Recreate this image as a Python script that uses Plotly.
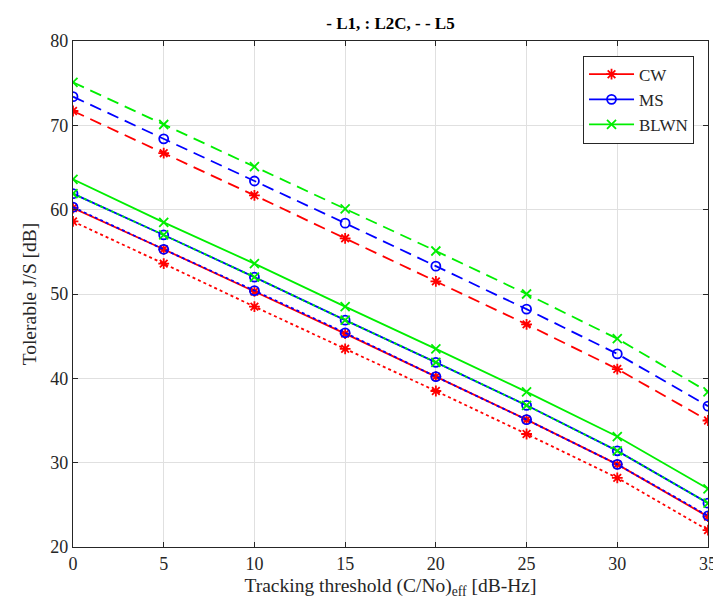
import plotly.graph_objects as go

x_vals = [0, 5, 10, 15, 20, 25, 30, 35]

# L1 (solid)
cw_l1 = [60.2, 55.3, 50.3, 45.3, 40.2, 35.1, 29.8, 23.6]
ms_l1 = [61.9, 57.0, 52.0, 46.9, 41.9, 36.8, 31.4, 25.2]
blwn_l1 = [63.6, 58.5, 53.6, 48.5, 43.5, 38.4, 33.1, 26.9]

# L2C (dotted)
cw_l2c = [58.6, 53.6, 48.5, 43.5, 38.5, 33.4, 28.2, 22.0]
ms_l2c = [60.3, 55.3, 50.4, 45.4, 40.2, 35.1, 29.8, 23.7]
blwn_l2c = [61.9, 57.0, 52.0, 46.9, 41.9, 36.8, 31.4, 25.2]

# L5 (dashed)
cw_l5 = [71.7, 66.7, 61.7, 56.6, 51.5, 46.4, 41.1, 35.0]
ms_l5 = [73.4, 68.4, 63.4, 58.4, 53.3, 48.2, 42.9, 36.7]
blwn_l5 = [75.1, 70.1, 65.1, 60.1, 55.1, 50.0, 44.7, 38.4]

y_ticks = [20, 30, 40, 50, 60, 70, 80]

names = ["CW", "MS", "BLWN"]
colors = ["#ff0000", "#0000ff", "#00ee00"]
symbols = ["asterisk-open", "circle-open", "x-thin-open"]

groups = [
    ("solid", [cw_l1, ms_l1, blwn_l1], True),
    ("dot", [cw_l2c, ms_l2c, blwn_l2c], False),
    ("12px,7px", [cw_l5, ms_l5, blwn_l5], False),
]

font_family = "Liberation Serif, Times New Roman, serif"

fig = go.Figure()
for dash, series, show in groups:
    for name, color, sym, ys in zip(names, colors, symbols, series):
        fig.add_trace(go.Scatter(
            x=x_vals, y=ys, mode="lines+markers", name=name,
            showlegend=show,
            line=dict(color=color, width=1.8, dash=dash),
            marker=dict(symbol=sym, size=9, color=color,
                        line=dict(color=color, width=1.8)),
        ))

axis_common = dict(
    showgrid=True, gridcolor="#e0e0e0", gridwidth=1,
    showline=True, linecolor="#262626", linewidth=1.3, mirror="ticks",
    ticks="inside", ticklen=5, tickcolor="#262626",
    zeroline=False,
    tickfont=dict(family=font_family, size=18, color="#262626"),
)

fig.update_layout(
    width=721, height=610,
    margin=dict(l=65, r=12, t=33, b=71),
    paper_bgcolor="white", plot_bgcolor="white",
    font=dict(family=font_family, color="#262626"),
    title=dict(text="<b>- L1, : L2C, - - L5</b>", x=0.5, xref="paper",
               y=0.975, yanchor="middle",
               font=dict(family=font_family, size=17, color="black")),
    xaxis=dict(range=[0, 35], tickvals=x_vals, **axis_common,
               title=dict(text="Tracking threshold (C/No)<sub>eff</sub> [dB-Hz]",
                          font=dict(family=font_family, size=19.5, color="#262626"),
                          standoff=5)),
    yaxis=dict(range=[20, 80], tickvals=y_ticks, **axis_common,
               title=dict(text="Tolerable J/S [dB]",
                          font=dict(family=font_family, size=19.5, color="#262626"),
                          standoff=8)),
    legend=dict(x=0.978, y=0.971, xanchor="right", yanchor="top",
                bgcolor="white", bordercolor="#262626", borderwidth=1,
                font=dict(family=font_family, size=17, color="#262626"),
                tracegroupgap=0, itemwidth=45),
    showlegend=True,
)

fig.write_html("out.html")
